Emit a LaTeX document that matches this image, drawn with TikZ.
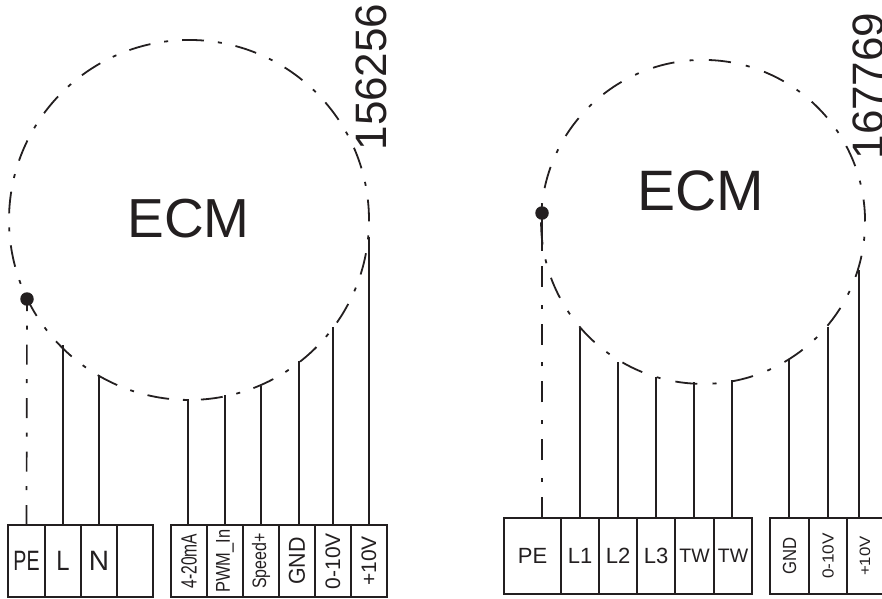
\documentclass[tikz,border=0pt]{standalone}
\usepackage{fontspec}
\setmainfont{Liberation Sans}
\definecolor{ink}{HTML}{231F20}
\newcommand\lbltxt[3]{\scalebox{#2}[1]{\fontsize{#1}{#1}\selectfont #3}}
\newcommand\lblrot[3]{\rotatebox{90}{\scalebox{#2}[1]{\fontsize{#1}{#1}\selectfont #3}}}
\tikzset{
  x=1pt,y=-1pt,
  ringl/.style={line width=1.8pt,draw=ink,dash pattern=on 21.86pt off 14pt on 4pt off 14pt},
  ringr/.style={line width=1.8pt,draw=ink,dash pattern=on 22pt off 15.27pt on 4pt off 15.27pt},
  wire/.style={line width=1.7pt,draw=ink},
  pewl/.style={line width=1.7pt,draw=ink,dash pattern=on 20pt off 15pt on 4pt off 14.5pt},
  pewr/.style={line width=1.7pt,draw=ink,dash pattern=on 21pt off 15pt on 4pt off 17.8pt},
  cell/.style={draw=ink,line width=1.7pt,inner sep=0pt,outer sep=0pt,minimum width=#1,text=ink,anchor=north west},
  dotn/.style={circle,fill=ink,inner sep=0pt,minimum size=13.5pt},
}
\begin{document}
\begin{tikzpicture}
\useasboundingbox (0,0) rectangle (882,598);
% left
\draw[ringl] (182.1,40.1) arc[start angle=-92.2,end angle=267.8,x radius=180pt,y radius=-180pt];
\node[dotn] (ldot) at (27,299) {};
\node[text=ink,inner sep=0pt,font=\fontsize{55}{55}\selectfont] (lecm) at (188.5,219) {ECM};
\node[text=ink,rotate=90,inner sep=0pt,font=\fontsize{44}{44}\selectfont] (lnum) at (371,77) {156256};
\foreach \n/\x/\w/\t in {a/8/37/{\lbltxt{28}{0.7}{PE}},b/45/36/{\lbltxt{28}{0.85}{L}},c/81/36/{\lbltxt{28}{1}{N}},d/117/36/{}}{
  \node[cell=\w pt,minimum height=72pt] (l\n) at (\x,525) {\t};}
\foreach \n/\x/\t in {e/171/{\lblrot{22}{0.71}{4-20mA}},f/207/{\lblrot{20}{0.82}{PWM\_In}},g/243/{\lblrot{19.5}{0.82}{Speed+}},h/279/{\lblrot{23}{0.93}{GND}},i/315/{\lblrot{21}{1}{0-10V}},j/351/{\lblrot{21}{1}{+10V}}}{
  \node[cell=36pt,minimum height=72pt] (l\n) at (\x,525) {\t};}
\draw[pewl] (la.north) -- (ldot.center);
\coordinate (w1) at (63,345);\draw[wire] (w1) -- (w1 |- lb.north);
\coordinate (w2) at (99,375);\draw[wire] (w2) -- (w2 |- lc.north);
\coordinate (w3) at (188,399);\draw[wire] (w3) -- (w3 |- le.north);
\coordinate (w4) at (225,395);\draw[wire] (w4) -- (w4 |- lf.north);
\coordinate (w5) at (261,386);\draw[wire] (w5) -- (w5 |- lg.north);
\coordinate (w6) at (299,361);\draw[wire] (w6) -- (w6 |- lh.north);
\coordinate (w7) at (333,327);\draw[wire] (w7) -- (w7 |- li.north);
\coordinate (w8) at (369,237);\draw[wire] (w8) -- (w8 |- lj.north);
% right
\draw[ringr] (709,60) arc[start angle=-87.9,end angle=272.1,x radius=162pt,y radius=-162pt];
\node[dotn] (rdot) at (542,213) {};
\node[text=ink,inner sep=0pt,font=\fontsize{57}{57}\selectfont] (recm) at (701,191) {ECM};
\node[text=ink,rotate=90,inner sep=0pt,font=\fontsize{44}{44}\selectfont] (rnum) at (868,86) {167769};
\foreach \n/\x/\w/\t in {a/504/57/{\lbltxt{22}{1}{PE}},b/561/38/{\lbltxt{22}{1}{L1}},c/599/38/{\lbltxt{22}{1}{L2}},d/637/38/{\lbltxt{22}{1}{L3}},e/675/39/{\lbltxt{19.5}{1}{TW}},f/714/38/{\lbltxt{19.5}{1}{TW}},g/770/39/{\lblrot{19}{0.88}{GND}},h/809/38/{\lblrot{16}{1.07}{0-10V}},i/847/36/{\lblrot{15}{1.12}{+10V}}}{
  \node[cell=\w pt,minimum height=76pt] (r\n) at (\x,518) {\t};}
\coordinate (v0) at (542,248);
\draw[wire] (rdot.center) -- (v0);
\draw[pewr] (v0 |- ra.north) -- (v0);
\coordinate (v1) at (580,328);\draw[wire] (v1) -- (v1 |- rb.north);
\coordinate (v2) at (618,362);\draw[wire] (v2) -- (v2 |- rc.north);
\coordinate (v3) at (656,377);\draw[wire] (v3) -- (v3 |- rd.north);
\coordinate (v4) at (694,382);\draw[wire] (v4) -- (v4 |- re.north);
\coordinate (v5) at (732,380);\draw[wire] (v5) -- (v5 |- rf.north);
\coordinate (v6) at (789,360);\draw[wire] (v6) -- (v6 |- rg.north);
\coordinate (v7) at (828,327);\draw[wire] (v7) -- (v7 |- rh.north);
\coordinate (v8) at (859,270);\draw[wire] (v8) -- (v8 |- ri.north);
\end{tikzpicture}
\end{document}
